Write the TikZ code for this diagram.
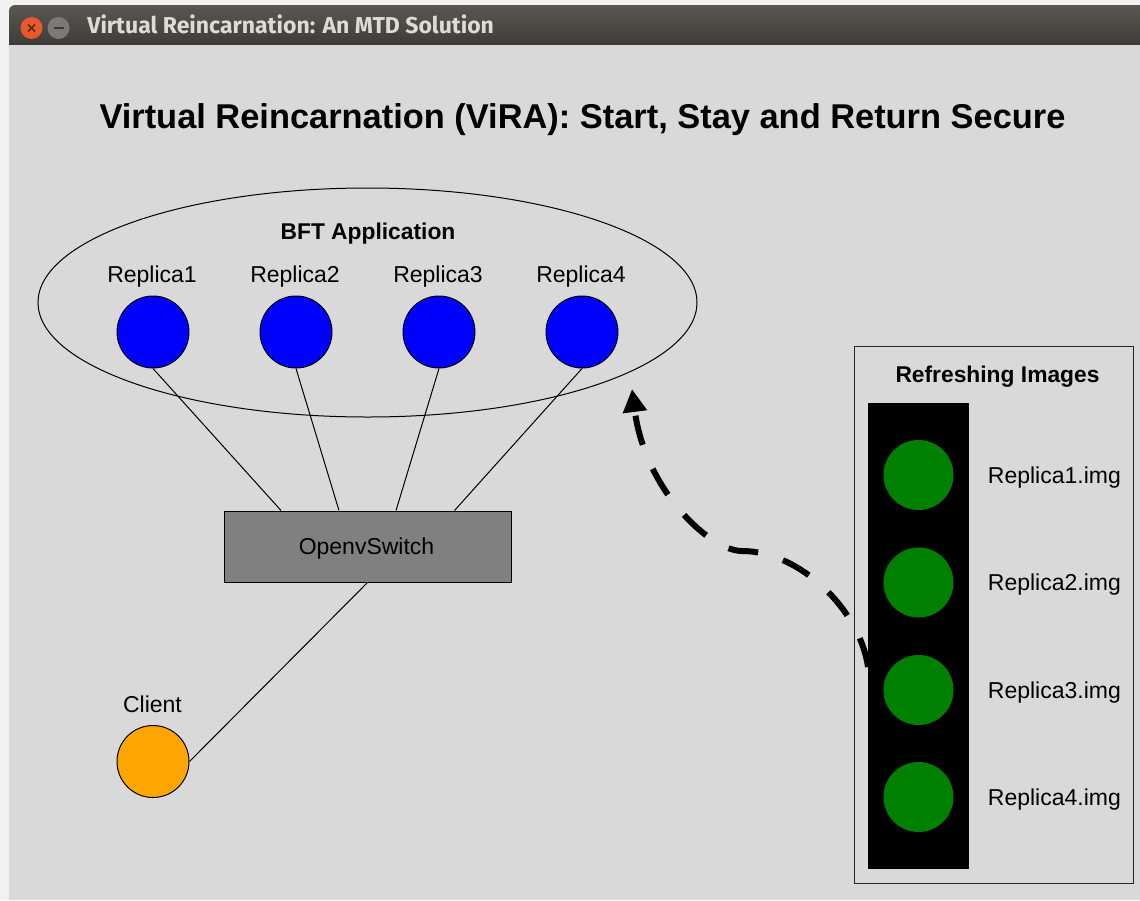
\documentclass[tikz,border=0pt]{standalone}
\usepackage{fontspec}
\setmainfont{Liberation Sans}
\newfontfamily\barfont{Fira Sans}
\usetikzlibrary{arrows.meta,calc,shapes.geometric}

\definecolor{deskbg}{HTML}{F2F2F2}
\definecolor{bartop}{HTML}{5A5751}
\definecolor{barbot}{HTML}{3D3C38}
\definecolor{bartext}{HTML}{DFDBD2}
\definecolor{closered}{HTML}{E7592A}
\definecolor{closemark}{HTML}{5A2A18}
\definecolor{mingray}{HTML}{7C7A76}
\definecolor{minmark}{HTML}{3A3936}
\definecolor{canvasgray}{HTML}{D9D9D9}
\definecolor{repblue}{HTML}{0000FF}
\definecolor{clientorange}{HTML}{FFA500}
\definecolor{switchgray}{HTML}{808080}
\definecolor{imggreen}{HTML}{008000}

\begin{document}
\begin{tikzpicture}[x=0.5pt,y=-0.5pt,
  rep/.style={circle, draw=black, line width=0.5pt, fill=repblue, minimum size=36pt, inner sep=0},
  clientnode/.style={rep, fill=clientorange},
  img/.style={circle, fill=imggreen, minimum size=35pt, inner sep=0},
  lbl/.style={font=\fontsize{11.5}{13}\selectfont, inner sep=0, anchor=base},
  imglbl/.style={lbl, anchor=base west},
  blbl/.style={font=\bfseries\fontsize{11.4}{13}\selectfont, inner sep=0, anchor=base},
  link/.style={draw=black, line width=0.5pt},
  refresh/.style={draw=black, line width=3pt, dash pattern=on 15pt off 13pt,
    -{Triangle[length=11.5pt,width=11.5pt]}}
]
\useasboundingbox (0,0) rectangle (1140,900);
\fill[deskbg] (0,0) rectangle (1140,900);

% window frame: title bar and canvas
\shade[top color=bartop, bottom color=barbot]
  (9,45) [rounded corners=3pt]-- (9,5) [sharp corners]-- (1140,5) -- (1140,45) -- cycle;
\fill[canvasgray] (9,45) rectangle (1140,900);

\node[circle, fill=closered, minimum size=11pt, inner sep=0] (closebtn) at (31.5,28) {};
\draw[closemark, line width=0.8pt] ($(closebtn)+(-3.5,-3.5)$) -- ($(closebtn)+(3.5,3.5)$);
\draw[closemark, line width=0.8pt] ($(closebtn)+(-3.5,3.5)$) -- ($(closebtn)+(3.5,-3.5)$);
\node[circle, fill=mingray, minimum size=11pt, inner sep=0] (minbtn) at (58.5,28) {};
\draw[minmark, line width=0.7pt] ($(minbtn)+(-5,0)$) -- ($(minbtn)+(5,0)$);
\node[anchor=base west, inner sep=0, text=bartext,
  font=\barfont\bfseries\fontsize{11.5}{13}\selectfont] (wintitle) at (87,33.5)
  {Virtual Reincarnation: An MTD Solution};

% heading
\node[font=\bfseries\fontsize{17.2}{20}\selectfont, inner sep=0, anchor=base] (heading)
  at (582.5,128) {Virtual Reincarnation (ViRA): Start, Stay and Return Secure};

% BFT application group
\node[ellipse, draw=black, line width=0.5pt, minimum width=329.5pt, minimum height=114.5pt, inner sep=0]
  (app) at (367.5,302.5) {};
\node[blbl] (apptitle) at (368,239.5) {BFT Application};

\node[rep] (r1) at (153,332) {};
\node[rep] (r2) at (296,332) {};
\node[rep] (r3) at (439,332) {};
\node[rep] (r4) at (582,332) {};
\node[lbl] (l1) at (152,282) {Replica1};
\node[lbl] (l2) at (295,282) {Replica2};
\node[lbl] (l3) at (438,282) {Replica3};
\node[lbl] (l4) at (581,282) {Replica4};

% switch and client
\node[draw=black, line width=0.5pt, fill=switchgray, minimum width=143.5pt, minimum height=35.5pt, inner sep=0]
  (sw) at (367.5,546.5) {};
\node[lbl] (swlbl) at (366.5,554) {OpenvSwitch};

\draw[link] (r1.south) -- ($(sw.north)+(-86.5,0)$);
\draw[link] (r2.south) -- ($(sw.north)+(-28.5,0)$);
\draw[link] (r3.south) -- ($(sw.north)+(28.5,0)$);
\draw[link] (r4.south) -- ($(sw.north)+(87,0)$);

\node[clientnode] (client) at (153,761.5) {};
\node[lbl] (clientlbl) at (152.5,712) {Client};
\draw[link] (sw.south) -- (client.east);

% refreshing images panel
\node[draw=black!85, line width=0.5pt, minimum width=139.5pt, minimum height=268.5pt, inner sep=0]
  (panel) at (993.5,614.5) {};
\node[blbl] (paneltitle) at (997.5,382.5) {Refreshing Images};
\node[fill=black, minimum width=50.5pt, minimum height=233pt, inner sep=0] (imgbar) at (918.5,636) {};

\node[img] (g1) at (918.5,475) {};
\node[img] (g2) at (918.5,582.5) {};
\node[img] (g3) at (918.5,690) {};
\node[img] (g4) at (918.5,797) {};
\node[imglbl] (i1) at (987.5,483) {Replica1.img};
\node[imglbl] (i2) at (987.5,590.5) {Replica2.img};
\node[imglbl] (i3) at (987.5,698) {Replica3.img};
\node[imglbl] (i4) at (987.5,805) {Replica4.img};

% refresh path back to the application
\coordinate (imgsrc) at (868,667);
\coordinate (apptgt) at (632,389);
\draw[refresh] (imgsrc) .. controls (860,610) and (800,551) .. (742,551)
  .. controls (710,551) and (645,490) .. (apptgt);
\end{tikzpicture}
\end{document}
